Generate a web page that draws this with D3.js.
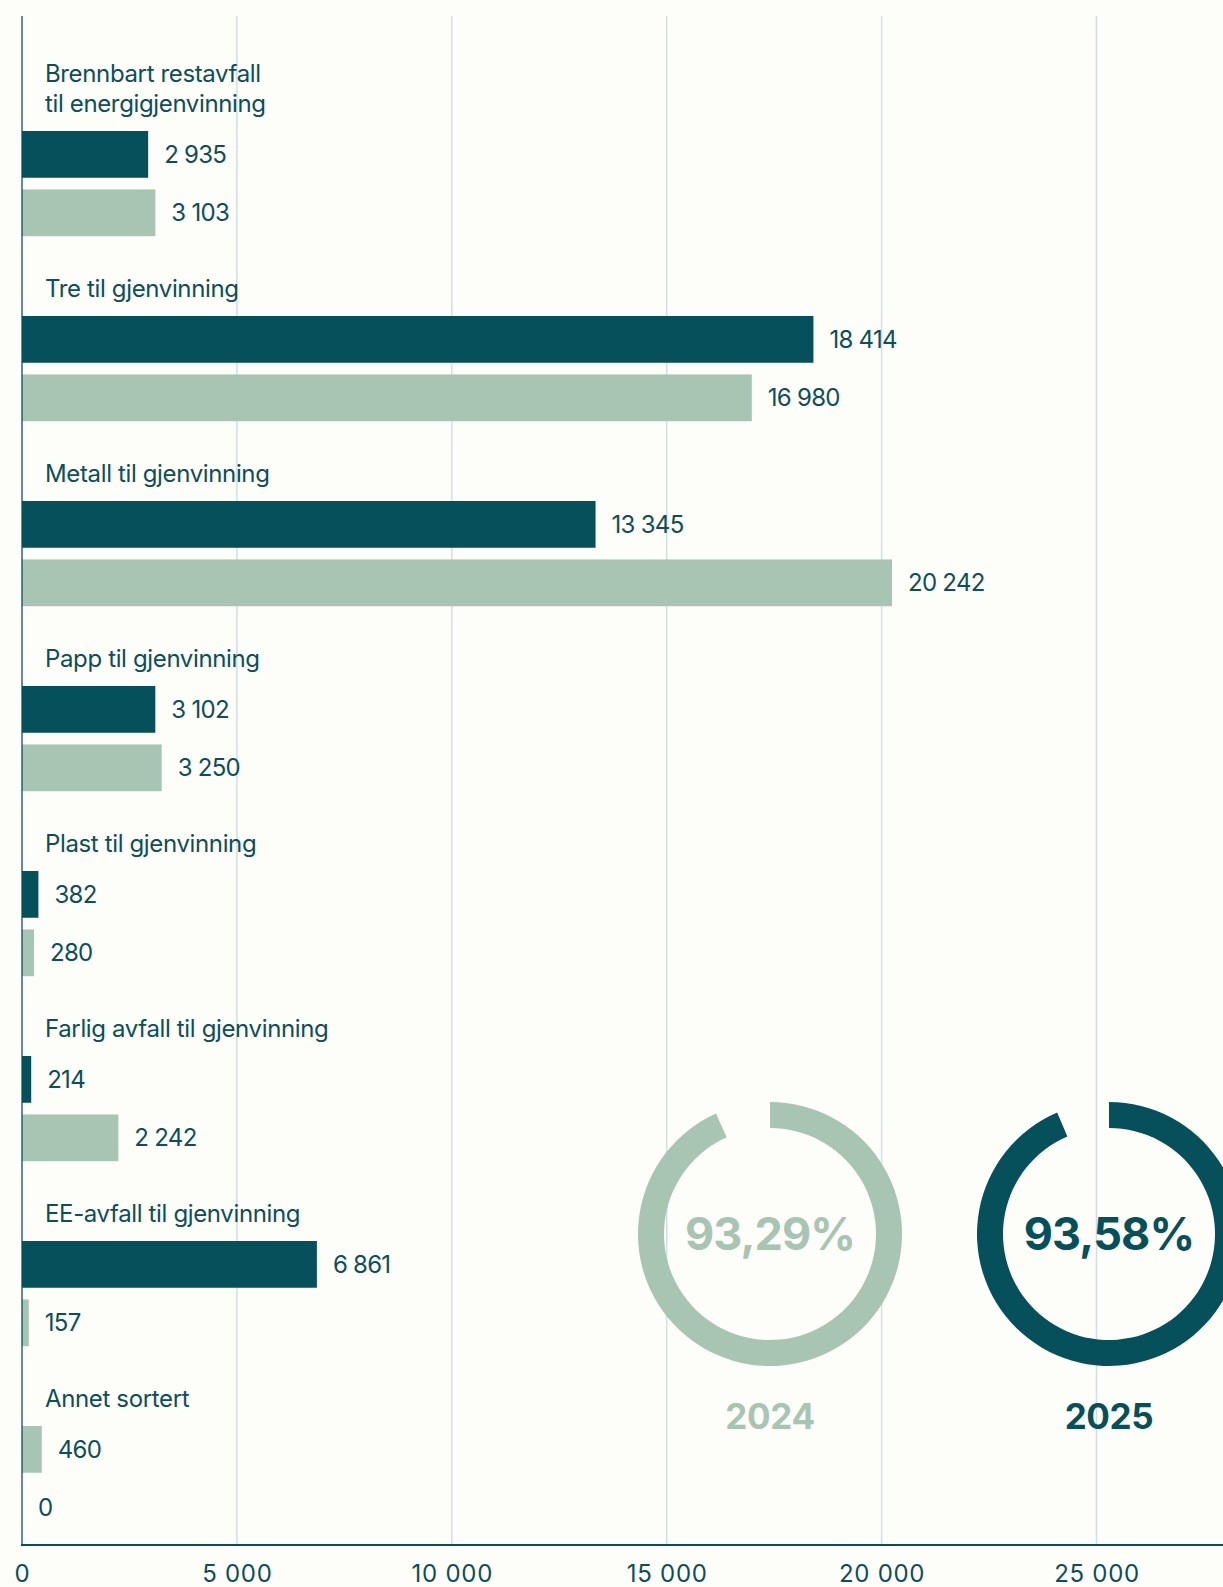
<!DOCTYPE html>
<html>
<head>
<meta charset="utf-8">
<script src="https://cdn.jsdelivr.net/npm/d3@7"></script>
<style>
  html, body { margin: 0; padding: 0; background: #fdfdf9; }
  svg { display: block; font-family: "Inter", "Noto Sans", sans-serif; }
</style>
</head>
<body>
<div id="chart"></div>
<script>
// values (tonnes)
const categories = [
    "Brennbart restavfall\ntil energigjenvinning",
    "Tre til gjenvinning",
    "Metall til gjenvinning",
    "Papp til gjenvinning",
    "Plast til gjenvinning",
    "Farlig avfall til gjenvinning",
    "EE-avfall til gjenvinning",
    "Annet sortert"
];
const values2025 = [2935, 18414, 13345, 3102, 382, 214, 6861, 0];
const values2024 = [3103, 16980, 20242, 3250, 280, 2242, 157, 460];
// which series sits in the top row of each group
const topRowSeries = ["2025", "2025", "2025", "2025", "2025", "2025", "2025", "2024"];
const xTicks = [0, 5000, 10000, 15000, 20000, 25000];

const rateYears = ["2024", "2025"];
const rateValues = [93.29, 93.58];

const width = 1223,
    height = 1587,
    margin = ({ top: 16, right: 0, bottom: 42, left: 22 });

const dark = "#05505b",
    light = "#a8c4b3",
    textColor = "#0b4f5a",
    gridColor = "#d2e0e1";

const colors = { "2025": dark, "2024": light };

const nb = d3.formatLocale({ decimal: ",", thousands: " ", grouping: [3], currency: ["", ""] }).format(",d");

const svg = d3.select("#chart")
    .append("svg")
    .attr("width", width)
    .attr("height", height)
    .attr("viewBox", [0, 0, width, height]);

svg.append("rect")
    .attr("width", width)
    .attr("height", height)
    .attr("fill", "#fdfdf9");

const axisY = height - margin.bottom;

let x = d3.scaleLinear()
    .domain([0, 25000])
    .range([margin.left, 1096.5]);

let y = d3.scaleBand()
    .domain(categories)
    .range([131, 131 + categories.length * 185])
    .paddingInner(0)
    .paddingOuter(0);

let row = d3.scaleBand()
    .domain(["top", "bottom"])
    .range([0, 105.2])
    .paddingInner(0.2);

// gridlines
svg.append("g")
    .selectAll("line")
    .data(xTicks.filter(d => d > 0))
    .join("line")
    .attr("x1", d => x(d))
    .attr("x2", d => x(d))
    .attr("y1", margin.top)
    .attr("y2", axisY)
    .attr("stroke", gridColor)
    .attr("stroke-width", 1.5);

// rows: one per category and series
const rows = [];
categories.forEach((c, i) => {
    const upper = topRowSeries[i];
    const lower = upper === "2025" ? "2024" : "2025";
    const val = { "2025": values2025[i], "2024": values2024[i] };
    rows.push({ cat: c, pos: "top", series: upper, value: val[upper] });
    rows.push({ cat: c, pos: "bottom", series: lower, value: val[lower] });
});

svg.append("g")
    .selectAll("rect")
    .data(rows)
    .join("rect")
    .attr("x", x(0))
    .attr("y", d => y(d.cat) + row(d.pos))
    .attr("width", d => x(d.value) - x(0))
    .attr("height", row.bandwidth())
    .attr("fill", d => colors[d.series]);

svg.append("g")
    .attr("fill", textColor)
    .attr("font-size", 24)
    .selectAll("text")
    .data(rows)
    .join("text")
    .attr("x", d => x(d.value) + 16)
    .attr("y", d => y(d.cat) + row(d.pos) + row.bandwidth() / 2)
    .attr("dy", "0.35em")
    .attr("letter-spacing", "-0.03em")
    .text(d => nb(d.value));

// category labels
const catLabels = svg.append("g")
    .attr("fill", textColor)
    .attr("font-size", 24)
    .attr("letter-spacing", "-0.015em")
    .selectAll("text")
    .data(categories)
    .join("text")
    .attr("x", margin.left + 23)
    .attr("y", d => y(d) - 19);

catLabels.selectAll("tspan")
    .data(d => d.split("\n").map((t, i, arr) => ({ t, shift: i - (arr.length - 1) })))
    .join("tspan")
    .attr("x", margin.left + 23)
    .attr("dy", (d, i) => i === 0 ? d.shift * 30 : 30)
    .text(d => d.t);

// axes
svg.append("line")
    .attr("x1", x(0))
    .attr("x2", x(0))
    .attr("y1", margin.top)
    .attr("y2", axisY)
    .attr("stroke", dark)
    .attr("stroke-opacity", 0.8)
    .attr("stroke-width", 1.6);

svg.append("line")
    .attr("x1", x(0) - 1)
    .attr("x2", width)
    .attr("y1", axisY)
    .attr("y2", axisY)
    .attr("stroke", dark)
    .attr("stroke-width", 2);

const xAxis = svg.append("g")
    .attr("transform", `translate(0,${axisY})`)
    .call(d3.axisBottom(x).tickValues(xTicks).tickSize(0).tickPadding(0).tickFormat(nb));

xAxis.select(".domain").remove();
xAxis.selectAll("text")
    .attr("y", 36.5)
    .attr("dy", null)
    .attr("fill", textColor)
    .attr("font-size", 24)
    .attr("letter-spacing", "0.03em")
    .attr("font-family", "Inter, sans-serif");

// recycling rate donuts
const donutX = d3.scalePoint()
    .domain(rateYears)
    .range([770, 1109]);

const cy = 1234;
const arc = d3.arc()
    .innerRadius(106)
    .outerRadius(132)
    .startAngle(0);

const rateColors = { "2024": light, "2025": dark };

const donuts = svg.append("g")
    .selectAll("g")
    .data(rateYears.map((yr, i) => ({ year: yr, rate: rateValues[i] })))
    .join("g")
    .attr("transform", d => `translate(${donutX(d.year)},${cy})`);

donuts.append("path")
    .attr("d", d => arc({ endAngle: 2 * Math.PI * d.rate / 100 }))
    .attr("fill", d => rateColors[d.year]);

donuts.append("text")
    .attr("text-anchor", "middle")
    .attr("dy", "0.36em")
    .attr("font-size", 45)
    .attr("font-weight", 700)
    .attr("letter-spacing", "-0.02em")
    .attr("fill", d => rateColors[d.year])
    .text(d => d3.format(".2f")(d.rate).replace(".", ",") + "%");

donuts.append("text")
    .attr("text-anchor", "middle")
    .attr("y", 195)
    .attr("font-size", 35)
    .attr("font-weight", 700)
    .attr("letter-spacing", "-0.01em")
    .attr("fill", d => rateColors[d.year])
    .text(d => d.year);
</script>
</body>
</html>
